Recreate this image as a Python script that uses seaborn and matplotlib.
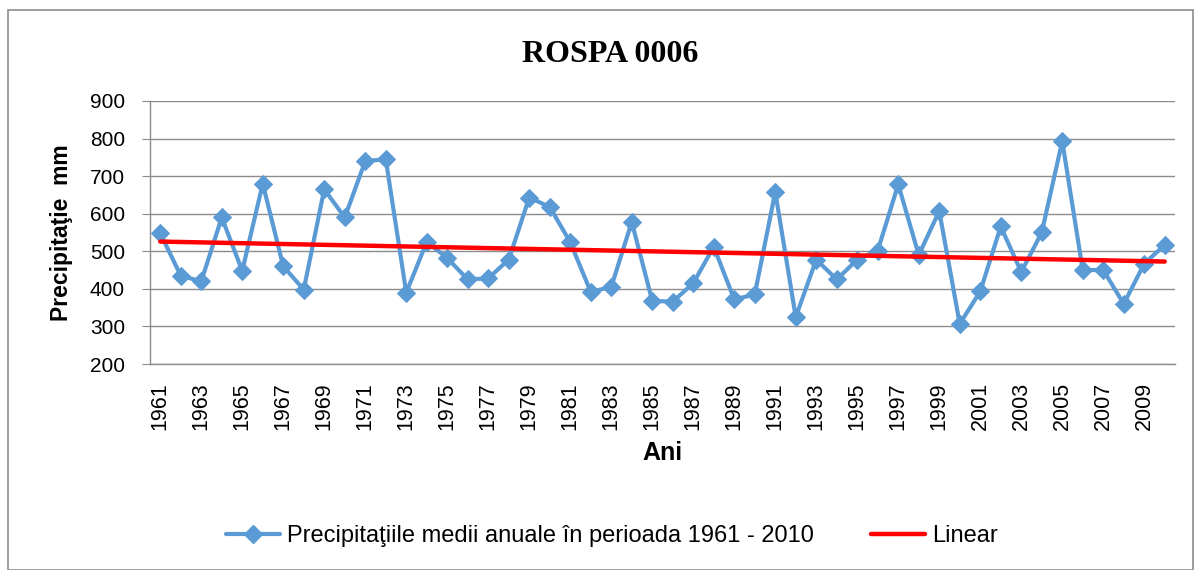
import numpy as np
import pandas as pd
import matplotlib
matplotlib.use('Agg')
import matplotlib.pyplot as plt
import seaborn as sns
from matplotlib.patches import Rectangle
from matplotlib.lines import Line2D

years = list(range(1961, 2011))
precip = [548, 435, 420, 590, 448, 680, 460, 398, 665, 590,
          740, 745, 390, 525, 482, 425, 428, 478, 643, 618,
          524, 392, 405, 578, 368, 366, 415, 512, 372, 385,
          658, 325, 478, 425, 478, 502, 678, 490, 607, 307,
          393, 566, 445, 550, 793, 450, 450, 360, 467, 517]
series_label = 'Precipitaţiile medii anuale în perioada 1961 - 2010'
trend_label = 'Linear'

df = pd.DataFrame({'an': years, 'pp': precip})
df['pos'] = np.arange(len(df))

# linear trend like Excel's trendline
k, b = np.polyfit(df['pos'], df['pp'], 1)
df['trend'] = k * df['pos'] + b

sns.set_style('white')
plt.rcParams['font.family'] = ['Liberation Sans', 'DejaVu Sans']
plt.rcParams['text.color'] = 'black'
plt.rcParams['axes.labelcolor'] = 'black'
plt.rcParams['xtick.labelcolor'] = 'black'
plt.rcParams['ytick.labelcolor'] = 'black'

fig = plt.figure(figsize=(11.98, 5.70), dpi=100)
ax = fig.add_axes([150/1198, 1 - 364/570, 1025/1198, 263/570])

blue = '#5B9BD5'
sns.lineplot(data=df, x='pos', y='pp', ax=ax, color=blue, lw=3, marker='D',
             markersize=9, markeredgecolor=blue, zorder=3)
sns.lineplot(data=df, x='pos', y='trend', ax=ax, color='#FF0000', lw=3.2, zorder=4)

ax.set_xlim(-0.5, len(df) - 0.5)
ax.set_ylim(200, 900)
ax.set_yticks(range(200, 901, 100))
ax.yaxis.grid(True, color='#8C8C8C', lw=1)
ax.set_axisbelow(True)

ax.set_xticks(df['pos'][::2])
ax.set_xticklabels(df['an'][::2], rotation=90)
ax.set_xticks(np.arange(-0.5, len(df)), minor=True)
ax.tick_params(axis='x', which='major', length=0, pad=13, labelsize=15.5)
ax.tick_params(axis='x', which='minor', length=6, color='#8C8C8C', direction='out')
ax.tick_params(axis='y', length=6, pad=12, color='#8C8C8C', direction='out',
               labelsize=15, left=True)

for s in ['top', 'right']:
    ax.spines[s].set_visible(False)
for s in ['left', 'bottom']:
    ax.spines[s].set_color('#8C8C8C')
    ax.spines[s].set_linewidth(1)

ax.set_xlabel('Ani', fontsize=18, fontweight='bold', labelpad=8)
ax.set_ylabel('Precipitaţie  mm', fontsize=16.5, fontweight='bold', labelpad=12)
ax.set_title('ROSPA 0006', fontsize=23, fontweight='bold', color='black',
             family=['Liberation Serif', 'DejaVu Serif'], x=(610 - 150)/1025, pad=28)

handles = [Line2D([], [], color=blue, lw=3, marker='D', markersize=9),
           Line2D([], [], color='#FF0000', lw=3.2)]
fig.legend(handles, [series_label, trend_label], loc='center', ncol=2,
           bbox_to_anchor=(612/1198, 1 - 536/570), frameon=False, fontsize=17,
           handlelength=2.3, columnspacing=2.4, handletextpad=0.3)

fig.patches.append(Rectangle((8/1198, 0), 1185/1198, 1 - 10/570, transform=fig.transFigure,
                             fill=False, edgecolor='#8C8C8C', lw=1.2))

fig.savefig('out.png', dpi=100)
